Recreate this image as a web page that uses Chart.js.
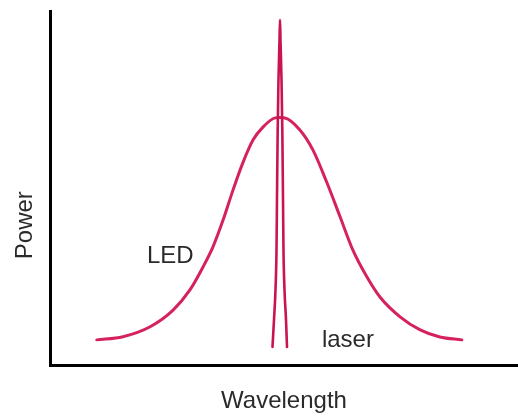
<!DOCTYPE html>
<html>
<head>
<meta charset="utf-8">
<script src="https://cdn.jsdelivr.net/npm/chart.js@4/dist/chart.umd.min.js"></script>
<style>
  body { margin: 0; background: #fff; }
  #wrap { width: 518px; height: 417px; }
</style>
</head>
<body>
<div id="wrap"><canvas id="grafico" width="518" height="417"></canvas></div>
<script>
// LED spectrum (broad) - wavelength / power in arbitrary units
const ledX = [10.0, 15.6, 21.4, 26.3, 29.9, 32.7, 34.8, 37.0, 39.1, 41.2, 43.4, 45.5, 48.1, 49.1, 50.2, 53.4, 56.2, 59.2, 62.0, 64.7, 67.7, 70.5, 74.8, 79.1, 83.3, 88.0];
const ledY = [7.1, 8.0, 10.8, 15.5, 21.2, 27.7, 33.3, 41.0, 49.4, 57.1, 63.6, 67.2, 69.8, 69.9, 69.8, 66.4, 60.7, 51.4, 41.8, 32.5, 24.9, 19.2, 13.6, 9.9, 7.9, 7.1];

// laser spectrum (narrow spike)
const laserX = [47.54, 47.86, 48.18, 48.40, 48.50, 48.65, 48.82, 49.04, 49.15, 49.25, 49.47, 49.64, 49.79, 49.89, 50.11, 50.43, 50.64];
const laserY = [5.1, 12.7, 21.2, 32.5, 46.6, 66.4, 80.5, 91.8, 97.5, 91.8, 80.5, 66.4, 46.6, 32.5, 21.2, 12.7, 5.1];

// text labels next to the curves
const noteText = ['LED', 'laser'];
const noteX = [20.7, 58.1];
const noteY = [28.8, 5.1];

const textColor = '#2a2a2a';
const fontFamily = '"Liberation Sans", Arial, Helvetica, sans-serif';

const pts = (xs, ys) => xs.map((x, i) => ({ x: x, y: ys[i] }));

const notas = {
    id: 'notas',
    afterDatasetsDraw(chart) {
        const { ctx, scales: { x, y } } = chart;
        ctx.save();
        ctx.fillStyle = textColor;
        ctx.font = '24px ' + fontFamily;
        ctx.textAlign = 'left';
        ctx.textBaseline = 'alphabetic';
        noteText.forEach((t, i) => {
            ctx.fillText(t, x.getPixelForValue(noteX[i]), y.getPixelForValue(noteY[i]));
        });
        // y axis title
        ctx.translate(25, y.getPixelForValue(39.5));
        ctx.rotate(-Math.PI / 2);
        ctx.textAlign = 'center';
        ctx.textBaseline = 'middle';
        ctx.fillText('Power', 0, 0);
        ctx.restore();
    }
};

const ctx = document.getElementById('grafico').getContext('2d');

new Chart(ctx, {
    type: 'scatter',
    data: {
        datasets: [{
            label: 'laser',
            data: pts(laserX, laserY),
            showLine: true,
            borderColor: '#c9154f',
            borderWidth: 2.6,
            borderCapStyle: 'round',
            borderJoinStyle: 'round',
            cubicInterpolationMode: 'monotone',
            pointRadius: 0
        }, {
            label: 'LED',
            data: pts(ledX, ledY),
            showLine: true,
            borderColor: '#d6215f',
            borderWidth: 3,
            borderCapStyle: 'round',
            cubicInterpolationMode: 'monotone',
            pointRadius: 0
        }]
    },
    options: {
        responsive: false,
        animation: false,
        layout: { padding: { top: 11, right: 0, left: 0, bottom: 0 } },
        plugins: {
            legend: { display: false },
            tooltip: { enabled: false }
        },
        scales: {
            x: {
                type: 'linear',
                min: 0,
                max: 100,
                grid: { display: false, drawTicks: false },
                ticks: { display: false },
                border: { display: true, color: '#000', width: 3 },
                title: {
                    display: true,
                    text: 'Wavelength',
                    color: textColor,
                    font: { family: fontFamily, size: 24 },
                    padding: { top: 0, bottom: 1 }
                },
                afterFit: s => { s.height = 52; }
            },
            y: {
                type: 'linear',
                min: 0,
                max: 100,
                grid: { display: false, drawTicks: false },
                ticks: { display: false },
                border: { display: true, color: '#000', width: 3 },
                afterFit: s => { s.width = 50; }
            }
        }
    },
    plugins: [notas]
});
</script>
</body>
</html>
